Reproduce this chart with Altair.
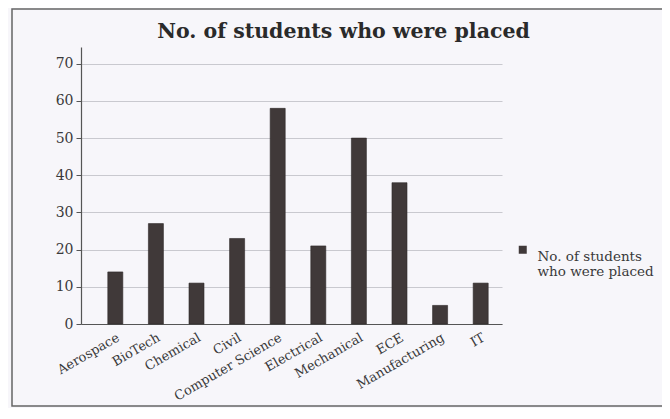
import altair as alt
import pandas as pd

categories = ["Aerospace", "BioTech", "Chemical", "Civil", "Computer Science",
              "Electrical", "Mechanical", "ECE", "Manufacturing", "IT"]
placed = [14, 27, 11, 23, 58, 21, 50, 38, 5, 11]
series_name = "No. of students who were placed"
y_ticks = [0, 10, 20, 30, 40, 50, 60, 70]

df = pd.DataFrame({"dept": categories, "placed": placed, "series": series_name})

FONT = "DejaVu Serif"

bars = alt.Chart(df).mark_bar(stroke="#2e2828", strokeWidth=0.6).encode(
    x=alt.X("dept:N", sort=categories, title=None,
            scale=alt.Scale(paddingInner=0.63, paddingOuter=0.5, align=0.66),
            axis=alt.Axis(labelAngle=-30, labelFontSize=13, labelFont=FONT,
                          labelColor="#3a3a3a", ticks=False, labelPadding=7,
                          domainColor="#555555", domainWidth=1.2, grid=False)),
    y=alt.Y("placed:Q", title=None,
            scale=alt.Scale(domain=[0, 74.5], nice=False),
            axis=alt.Axis(values=y_ticks, labelFontSize=14, labelFont=FONT,
                          labelColor="#3a3a3a", tickSize=5, tickColor="#555555",
                          labelPadding=3, domainColor="#555555", domainWidth=1.2,
                          gridColor="#c9c9cf", gridWidth=1)),
    color=alt.Color("series:N", title=None,
                    scale=alt.Scale(range=["#403939"]),
                    legend=alt.Legend(orient="none", legendX=435, legendY=196,
                                      symbolType="square", symbolSize=64,
                                      symbolStrokeWidth=0,
                                      labelFont=FONT, labelFontSize=13.5,
                                      labelColor="#3a3a3a", labelOffset=8,
                                      labelBaseline="top", labelLimit=300,
                                      labelExpr="['No. of students', 'who were placed']")),
)

frame = alt.Chart(alt.Data(values=[{}])).mark_rect(
    fill="transparent", stroke="#666666", strokeWidth=1.5
).encode(
    x=alt.value(-69), x2=alt.value(700),
    y=alt.value(-38), y2=alt.value(359),
)

chart = alt.layer(frame, bars).properties(
    width=421, height=277,
    autosize="none",
    padding={"left": 73, "top": 39, "right": 160, "bottom": 84},
    title=alt.TitleParams(series_name, font=FONT, fontSize=20.5, fontWeight="bold",
                          color="#2a2a2a", anchor="middle", dx=52, offset=0,
                          dy=34, frame="group"),
).configure(background="#f7f6fa").configure_view(stroke=None)

chart.save("out.html", embed_options={"renderer": "svg", "actions": False})
